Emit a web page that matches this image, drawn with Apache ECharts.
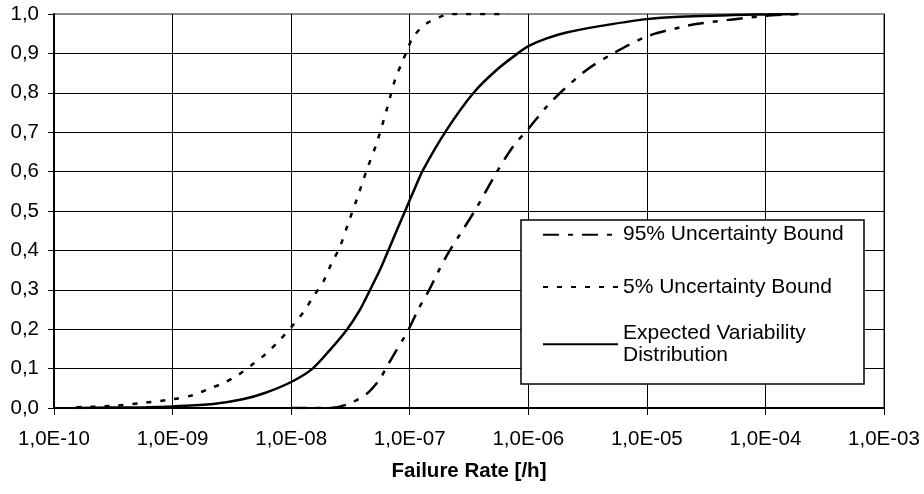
<!DOCTYPE html>
<html>
<head>
<meta charset="utf-8">
<title>Failure Rate</title>
<script src="https://cdn.jsdelivr.net/npm/echarts@6/dist/echarts.min.js"></script>
<style>
html, body { margin: 0; padding: 0; background: #fff; }
#main { width: 924px; height: 494px; }
</style>
</head>
<body>
<div id="main"></div>
<script>
// tick labels
var xTickLabels = ['1,0E-10', '1,0E-09', '1,0E-08', '1,0E-07', '1,0E-06', '1,0E-05', '1,0E-04', '1,0E-03'];
var yTickLabels = ['0,0', '0,1', '0,2', '0,3', '0,4', '0,5', '0,6', '0,7', '0,8', '0,9', '1,0'];

// [failure rate, cumulative probability]
var upper95 = [
	[1.0e-8, 0.000], [2.1e-8, 0.000], [2.9e-8, 0.008], [4.3e-8, 0.035],
	[5.6e-8, 0.073], [6.2e-8, 0.097], [7.5e-8, 0.140], [8.8e-8, 0.175],
	[1.0e-7, 0.205], [1.18e-7, 0.250], [1.46e-7, 0.300], [1.74e-7, 0.346],
	[2.11e-7, 0.393], [2.57e-7, 0.434], [3.66e-7, 0.508], [5.4e-7, 0.598],
	[7.5e-7, 0.665], [1.01e-6, 0.710], [1.43e-6, 0.765], [1.97e-6, 0.807],
	[3.1e-6, 0.858], [5.2e-6, 0.900], [1.0e-5, 0.943], [1.9e-5, 0.966],
	[2.8e-5, 0.976], [1.0e-4, 0.995], [1.9e-4, 1.000]
];
var lower5 = [
	[1.55e-10, 0.002], [2.96e-10, 0.005], [5.3e-10, 0.012], [1.0e-9, 0.022],
	[1.5e-9, 0.033], [2.07e-9, 0.050], [2.68e-9, 0.063], [3.58e-9, 0.084],
	[4.65e-9, 0.109], [6.2e-9, 0.139], [8.05e-9, 0.173], [1.04e-8, 0.211],
	[1.31e-8, 0.249], [1.53e-8, 0.282], [1.87e-8, 0.321], [2.19e-8, 0.367],
	[2.58e-8, 0.409], [3.03e-8, 0.469], [3.56e-8, 0.528], [4.34e-8, 0.604],
	[5.26e-8, 0.672], [6.38e-8, 0.756], [7.5e-8, 0.832], [8.55e-8, 0.875],
	[9.4e-8, 0.904], [1.07e-7, 0.942], [1.39e-7, 0.976], [1.98e-7, 0.997],
	[2.5e-7, 1.000], [6.8e-7, 1.000]
];
var expected = [
	[1.5e-10, 0.000], [3.0e-10, 0.001], [6.0e-10, 0.002], [1.0e-9, 0.004],
	[2.2e-9, 0.010], [3.9e-9, 0.022], [6.0e-9, 0.038], [1.0e-8, 0.066],
	[1.49e-8, 0.098], [2.12e-8, 0.147], [2.94e-8, 0.198], [3.8e-8, 0.249],
	[4.6e-8, 0.298], [5.6e-8, 0.350], [6.6e-8, 0.400], [7.8e-8, 0.452],
	[9.3e-8, 0.505], [1.07e-7, 0.548], [1.3e-7, 0.605], [2.05e-7, 0.706],
	[3.43e-7, 0.799], [5.4e-7, 0.858], [8.5e-7, 0.904], [1.01e-6, 0.919],
	[1.43e-6, 0.938], [2.1e-6, 0.953], [3.77e-6, 0.968], [9.9e-6, 0.987],
	[1.9e-5, 0.993], [1.0e-4, 0.999], [1.9e-4, 1.000]
];

var font = "'Liberation Sans', Arial, sans-serif";

var myChart = echarts.init(document.getElementById('main'), null, {renderer: 'canvas'});

var legendText = {fontFamily: font, fontSize: 21, lineHeight: 22, color: '#000'};

var option = {
	backgroundColor: '#fff',
	animation: false,
	textStyle: {fontFamily: font, color: '#000'},
	grid: {
		left: 54, right: 40, top: 14, bottom: 86,
		show: true,
		borderColor: '#8c8c8c',
		borderWidth: 2
	},
	graphic: [{
		type: 'rect',
		z: 3,
		shape: {x: 521, y: 220, width: 343, height: 164},
		style: {fill: '#fff', stroke: '#000', lineWidth: 1.5}
	}],
	legend: [
		{
			data: ['95% Uncertainty Bound', '5% Uncertainty Bound'],
			orient: 'vertical',
			left: 542, top: 223.7,
			padding: 0,
			itemWidth: 75, itemHeight: 24, itemGap: 30.3,
			selectedMode: false,
			z: 4,
			itemStyle: {opacity: 0, borderWidth: 0},
			textStyle: legendText
		},
		{
			data: ['Expected Variability Distribution'],
			orient: 'vertical',
			left: 542, top: 309.8,
			padding: 0,
			itemWidth: 75, itemHeight: 24,
			selectedMode: false,
			z: 4,
			itemStyle: {opacity: 0, borderWidth: 0},
			formatter: function () { return 'Expected Variability\nDistribution'; },
			textStyle: {fontFamily: font, fontSize: 21, lineHeight: 22, color: '#000', padding: [25, 0, 0, 0]}
		}
	],
	xAxis: {
		type: 'log',
		logBase: 10,
		min: 1e-10,
		max: 1e-3,
		splitNumber: 7,
		name: 'Failure Rate [/h]',
		nameLocation: 'middle',
		nameGap: 53,
		nameTextStyle: {fontFamily: font, fontSize: 20.5, fontWeight: 'bold', color: '#000'},
		axisLine: {onZero: false, lineStyle: {color: '#000', width: 2}},
		axisTick: {show: true, length: 7, lineStyle: {color: '#000', width: 1}},
		axisLabel: {
			margin: 21,
			fontFamily: font, fontSize: 20.5, color: '#000',
			formatter: function (v) {
				return xTickLabels[Math.round(Math.log10(v)) + 10];
			}
		},
		splitLine: {show: true, showMinLine: false, showMaxLine: false, lineStyle: {color: '#000', width: 1}},
		minorTick: {show: false}
	},
	yAxis: {
		type: 'value',
		min: 0,
		max: 1,
		interval: 0.1,
		axisLine: {show: true, onZero: false, lineStyle: {color: '#000', width: 2}},
		axisTick: {show: true, length: 6, lineStyle: {color: '#000', width: 1}},
		axisLabel: {
			margin: 15,
			fontFamily: font, fontSize: 20.5, color: '#000',
			formatter: function (v) {
				return yTickLabels[Math.round(v * 10)];
			}
		},
		splitLine: {show: true, showMinLine: false, showMaxLine: false, lineStyle: {color: '#000', width: 1}}
	},
	series: [
		{
			name: '95% Uncertainty Bound',
			type: 'line',
			data: upper95,
			symbol: 'none',
			showSymbol: false,
			smooth: 0.3,
			itemStyle: {color: '#000'},
			lineStyle: {color: '#000', width: 2.5, type: [16, 9, 5, 9]}
		},
		{
			name: '5% Uncertainty Bound',
			type: 'line',
			data: lower5,
			symbol: 'none',
			showSymbol: false,
			smooth: 0.3,
			itemStyle: {color: '#000'},
			lineStyle: {color: '#000', width: 2.5, type: [5, 9]}
		},
		{
			name: 'Expected Variability Distribution',
			type: 'line',
			data: expected,
			symbol: 'none',
			showSymbol: false,
			smooth: 0.3,
			itemStyle: {color: '#000'},
			lineStyle: {color: '#000', width: 2.5, type: 'solid'}
		}
	]
};

myChart.setOption(option);
</script>
</body>
</html>
